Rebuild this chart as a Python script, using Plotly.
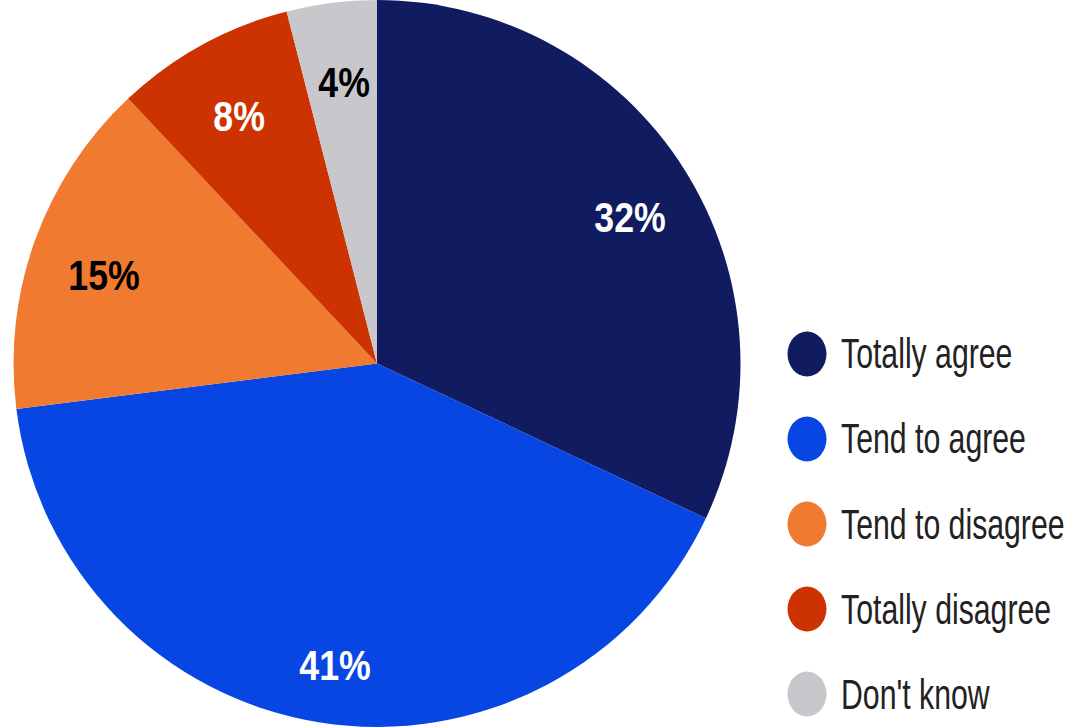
import math
import plotly.graph_objects as go

categories = ["Totally agree", "Tend to agree", "Tend to disagree", "Totally disagree", "Don't know"]
values = [32, 41, 15, 8, 4]
labels_text = ["32%", "41%", "15%", "8%", "4%"]
colors = ["#101B60", "#0846E4", "#F07A30", "#CC3300", "#C8C8CC"]
text_colors = ["white", "white", "black", "white", "black"]

W, H = 1072, 727
FONT = "Liberation Sans, Arial, sans-serif"

# pie geometry (pixels)
CX, R = 377.0, 363.5
dom_x = [(CX - R) / W, (CX + R) / W]

fig = go.Figure()
fig.add_trace(go.Pie(
    labels=categories,
    values=values,
    textinfo="none",
    marker=dict(colors=colors, line=dict(width=0)),
    sort=False,
    direction="clockwise",
    rotation=0,
    showlegend=False,
    hoverinfo="skip",
    domain=dict(x=dom_x, y=[0, 1]),
))

annotations = []
shapes = []

# slice labels, placed along each slice's mid-angle
total = sum(values)
cum = 0.0
LABEL_R = 0.81
for v, t, tc in zip(values, labels_text, text_colors):
    mid = (cum + v / 2) / total * 2 * math.pi
    cum += v
    px = CX + LABEL_R * R * math.sin(mid)
    py = 0.5 + LABEL_R * R * math.cos(mid) / H
    annotations.append(dict(
        x=px / W, y=py, xref="paper", yref="paper",
        xanchor="center", yanchor="middle", showarrow=False,
        xshift=4, yshift=-11,
        text=t, font=dict(family=FONT, size=43, color=tc, weight="bold"),
    ))

# custom legend
leg_x = 807
leg_y0 = 354
leg_dy = 85
for i, (cat, col) in enumerate(zip(categories, colors)):
    cy = leg_y0 + i * leg_dy
    shapes.append(dict(
        type="circle", xref="paper", yref="paper",
        x0=(leg_x - 19.5) / W, x1=(leg_x + 19.5) / W,
        y0=1 - (cy + 22.5) / H, y1=1 - (cy - 22.5) / H,
        fillcolor=col, line=dict(width=0),
    ))
    annotations.append(dict(
        x=839 / W, y=1 - cy / H, xref="paper", yref="paper",
        xanchor="left", yanchor="middle", showarrow=False,
        text=cat, font=dict(family=FONT, size=42, color="#222222"),
    ))

fig.update_layout(
    width=W, height=H,
    margin=dict(l=0, r=0, t=0, b=0),
    paper_bgcolor="white", plot_bgcolor="white",
    shapes=shapes, annotations=annotations,
)

# narrow the text horizontally to mimic a condensed (Arial Narrow-like) face
post = """
function narrowText(){
  var gd = document.getElementById('{plot_id}');
  if(!gd) return;
  gd.querySelectorAll('text.annotation-text').forEach(function(el){
    var pct = el.textContent.indexOf('%') >= 0;
    el.style.transformBox = 'fill-box';
    el.style.transformOrigin = pct ? 'center center' : 'left center';
    el.style.transform = pct ? 'scaleX(0.83)' : 'scaleX(0.72)';
  });
}
narrowText();
setTimeout(narrowText, 50);
"""

fig.write_html("out.html", post_script=post)
